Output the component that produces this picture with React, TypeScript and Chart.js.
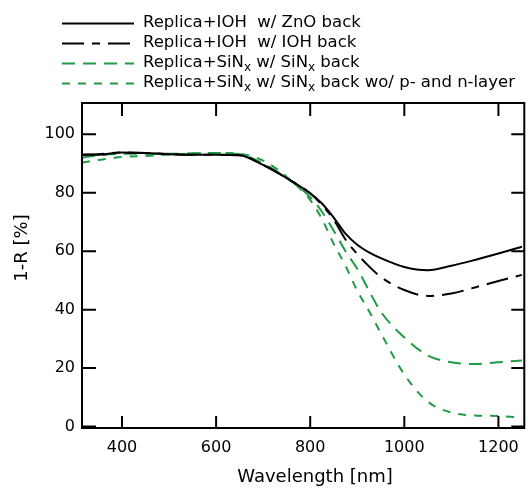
import React, { useEffect, useRef } from 'react';
import { Chart, registerables } from 'chart.js';

Chart.register(...registerables);

const WAVELENGTHS = [315, 350, 400, 450, 500, 550, 600, 650, 700, 750, 800, 825, 850, 875, 900, 925, 950, 1000, 1050, 1100, 1150, 1200, 1250];
const ZNO_BACK = [93.0, 93.0, 93.8, 93.6, 93.2, 93.0, 93.0, 92.8, 89.5, 85.0, 79.8, 76.3, 71.5, 66.0, 62.2, 59.6, 57.6, 54.6, 53.5, 55.0, 57.0, 59.2, 61.5];
const IOH_BACK = [93.0, 93.2, 93.8, 93.6, 93.2, 93.0, 93.0, 92.8, 89.5, 85.0, 79.8, 75.8, 70.8, 64.0, 59.0, 54.8, 51.2, 46.7, 44.7, 45.5, 47.6, 49.8, 51.9];
const SINX_BACK = [92.0, 92.8, 93.3, 93.3, 93.3, 93.5, 93.6, 93.2, 90.0, 85.0, 78.5, 73.5, 67.0, 60.0, 54.0, 46.5, 39.3, 30.5, 24.3, 22.0, 21.4, 22.0, 22.6];
const SINX_NO_PN = [90.3, 91.2, 92.2, 92.6, 93.0, 93.3, 93.6, 93.3, 91.0, 85.5, 77.5, 71.0, 62.5, 55.0, 46.5, 39.5, 32.0, 17.8, 8.5, 4.8, 3.8, 3.6, 3.0];

const X_TICKS = [400, 600, 800, 1000, 1200];
const Y_TICKS = [0, 20, 40, 60, 80, 100];

const X_TITLE = 'Wavelength [nm]';
const Y_TITLE = '1-R [%]';

const GREEN = '#1f9b45';
const FONT = 'DejaVu Sans';

type Seg = [string, boolean];
const SERIES = [
  { label: 'Replica+IOH  w/ ZnO back', parts: [['Replica+IOH  w/ ZnO back', false]] as Seg[], data: ZNO_BACK, color: '#000000', dash: [] as number[] },
  { label: 'Replica+IOH  w/ IOH back', parts: [['Replica+IOH  w/ IOH back', false]] as Seg[], data: IOH_BACK, color: '#000000', dash: [22, 8, 8, 8] },
  { label: 'Replica+SiNx w/ SiNx back', parts: [['Replica+SiN', false], ['x', true], [' w/ SiN', false], ['x', true], [' back', false]] as Seg[], data: SINX_BACK, color: GREEN, dash: [13, 8] },
  { label: 'Replica+SiNx w/ SiNx back wo/ p- and n-layer', parts: [['Replica+SiN', false], ['x', true], [' w/ SiN', false], ['x', true], [' back wo/ p- and n-layer', false]] as Seg[], data: SINX_NO_PN, color: GREEN, dash: [8, 8] },
];

const framePlugin = {
  id: 'frame',
  afterDatasetsDraw(chart: any) {
    const { ctx, chartArea: a, scales } = chart;
    const xs = scales.x;
    const ys = scales.y;
    ctx.save();
    ctx.strokeStyle = '#000';
    ctx.lineWidth = 2;
    ctx.setLineDash([]);
    ctx.strokeRect(a.left, a.top, a.right - a.left, a.bottom - a.top);
    ctx.beginPath();
    X_TICKS.forEach((v) => {
      const px = xs.getPixelForValue(v);
      ctx.moveTo(px, a.bottom);
      ctx.lineTo(px, a.bottom - 12);
      ctx.moveTo(px, a.top);
      ctx.lineTo(px, a.top + 13);
    });
    Y_TICKS.forEach((v) => {
      const py = ys.getPixelForValue(v);
      ctx.moveTo(a.left, py);
      ctx.lineTo(a.left + 14, py);
      ctx.moveTo(a.right, py);
      ctx.lineTo(a.right - 13, py);
    });
    ctx.stroke();

    // axis titles
    ctx.fillStyle = '#000';
    ctx.font = `18px "${FONT}"`;
    ctx.textAlign = 'center';
    ctx.textBaseline = 'middle';
    ctx.fillText(X_TITLE, 315, 477);
    ctx.save();
    ctx.translate(22.5, 248);
    ctx.rotate(-Math.PI / 2);
    ctx.fillText(Y_TITLE, 0, 0);
    ctx.restore();

    // legend
    ctx.textAlign = 'left';
    ctx.textBaseline = 'alphabetic';
    SERIES.forEach((s, i) => {
      const y = 23.5 + 20 * i;
      ctx.strokeStyle = s.color;
      ctx.lineWidth = 2;
      ctx.setLineDash(s.dash);
      ctx.beginPath();
      ctx.moveTo(62, y);
      ctx.lineTo(134, y);
      ctx.stroke();
      ctx.setLineDash([]);
      let x = 143;
      s.parts.forEach(([t, sub]) => {
        ctx.font = sub ? `12px "${FONT}"` : `16.5px "${FONT}"`;
        ctx.fillStyle = '#000';
        ctx.fillText(t, x, y + (sub ? 7.5 : 3.5));
        x += ctx.measureText(t).width;
      });
    });
    ctx.restore();
  },
};

export default function App() {
  const ref = useRef<HTMLCanvasElement | null>(null);
  useEffect(() => {
    document.body.style.margin = '0';
    const canvas = ref.current;
    if (!canvas) return;
    Chart.defaults.font.family = FONT;
    Chart.defaults.color = '#000';
    const chart = new Chart(canvas, {
      type: 'line',
      data: {
        datasets: SERIES.map((s) => ({
          label: s.label,
          data: WAVELENGTHS.map((w, i) => ({ x: w, y: s.data[i] })),
          borderColor: s.color,
          backgroundColor: s.color,
          borderWidth: 2,
          borderDash: s.dash,
          pointRadius: 0,
          cubicInterpolationMode: 'monotone' as const,
          fill: false,
        })),
      },
      options: {
        animation: false,
        responsive: false,
        devicePixelRatio: 1,
        layout: { padding: { top: 103, right: 4, left: 0, bottom: 0 } },
        plugins: { legend: { display: false }, tooltip: { enabled: false } },
        scales: {
          x: {
            type: 'linear',
            min: 315,
            max: 1255,
            grid: { display: false, drawTicks: false },
            border: { display: false },
            ticks: { font: { size: 16 }, color: '#000', padding: 10, maxRotation: 0, callback: (v: any) => String(v) },
            afterBuildTicks: (scale: any) => {
              scale.ticks = X_TICKS.map((v) => ({ value: v }));
            },
            afterFit: (scale: any) => {
              scale.height = 61;
            },
          },
          y: {
            type: 'linear',
            min: -0.5,
            max: 110.7,
            grid: { display: false, drawTicks: false },
            border: { display: false },
            ticks: { font: { size: 16 }, color: '#000', padding: 7, callback: (v: any) => String(v) },
            afterBuildTicks: (scale: any) => {
              scale.ticks = Y_TICKS.map((v) => ({ value: v }));
            },
            afterFit: (scale: any) => {
              scale.width = 82;
            },
          },
        },
      },
      plugins: [framePlugin],
    });
    return () => chart.destroy();
  }, []);
  return (
    <div style={{ width: 529, height: 489 }}>
      <canvas ref={ref} width={529} height={489} style={{ display: 'block', width: 529, height: 489 }} />
    </div>
  );
}
